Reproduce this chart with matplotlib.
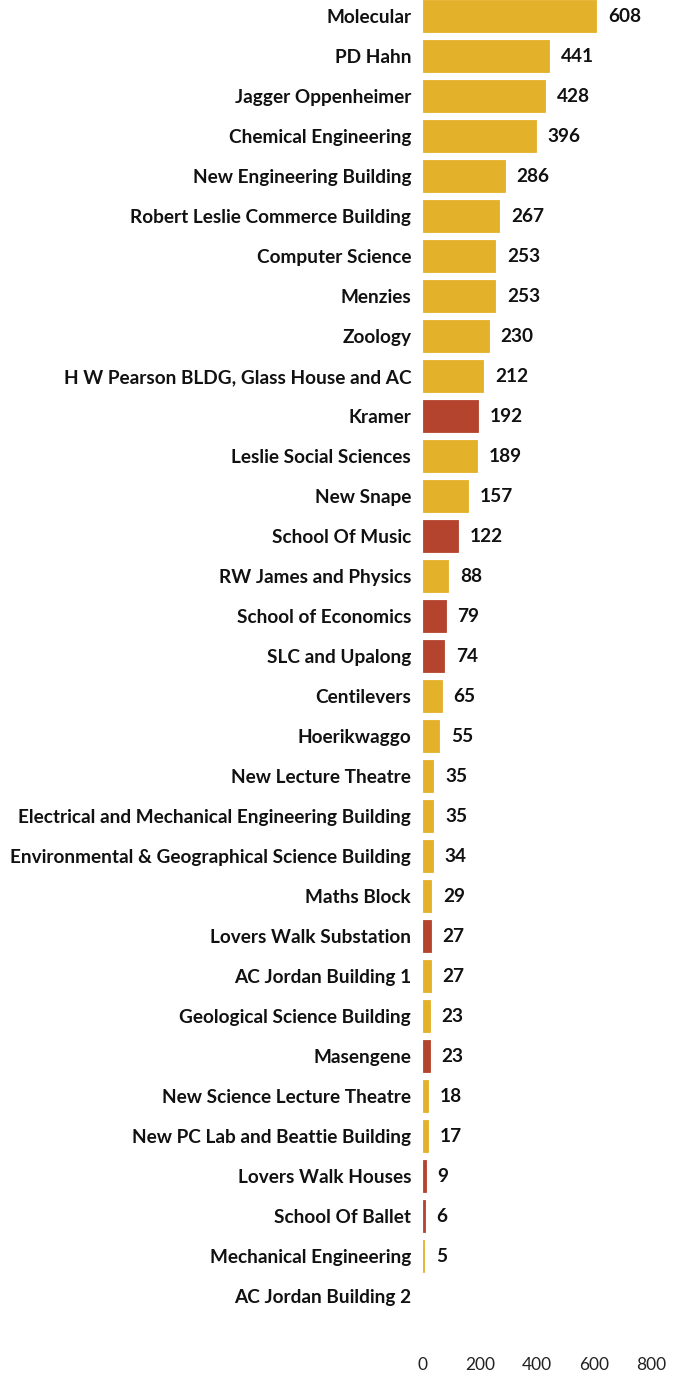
import matplotlib
matplotlib.use("Agg")
import matplotlib.pyplot as plt
import numpy as np

buildings = [
    "Molecular", "PD Hahn", "Jagger Oppenheimer", "Chemical Engineering",
    "New Engineering Building", "Robert Leslie Commerce Building",
    "Computer Science", "Menzies", "Zoology",
    "H W Pearson BLDG, Glass House and AC", "Kramer", "Leslie Social Sciences",
    "New Snape", "School Of Music", "RW James and Physics",
    "School of Economics", "SLC and Upalong", "Centilevers", "Hoerikwaggo",
    "New Lecture Theatre", "Electrical and Mechanical Engineering Building",
    "Environmental & Geographical Science Building", "Maths Block",
    "Lovers Walk Substation", "AC Jordan Building 1",
    "Geological Science Building", "Masengene", "New Science Lecture Theatre",
    "New PC Lab and Beattie Building", "Lovers Walk Houses", "School Of Ballet",
    "Mechanical Engineering", "AC Jordan Building 2",
]
counts = [608, 441, 428, 396, 286, 267, 253, 253, 230, 212, 192, 189, 157,
          122, 88, 79, 74, 65, 55, 35, 35, 34, 29, 27, 27, 23, 23, 18, 17,
          9, 6, 5, 0]
highlight = ["Kramer", "School Of Music", "School of Economics",
             "SLC and Upalong", "Lovers Walk Substation", "Masengene",
             "Lovers Walk Houses", "School Of Ballet"]
xticks = [0, 200, 400, 600, 800]

GOLD = "#E4B12A"
RED = "#B4442E"

W, H = 682, 1375
fig = plt.figure(figsize=(W / 100, H / 100), dpi=100)
ax = fig.add_axes([423 / W, (H - 1350) / H, 228 / W, 1350 / H])

y = np.arange(len(buildings))
colors = [RED if b in highlight else GOLD for b in buildings]
widths = [0.6 if v > 0 else 0 for v in counts]
bars = ax.barh(y, counts, height=0.8, color=colors, edgecolor=colors,
               linewidth=widths)

for rect, v in zip(bars, counts):
    if v == 0:
        continue
    ax.annotate(str(v), (rect.get_width(), rect.get_y() + rect.get_height() / 2),
                xytext=(12, 0), textcoords="offset pixels", va="center",
                ha="left", fontsize=13.7, fontweight="bold", family="Lato",
                color="#111111")

ax.set_xlim(0, 800)
ax.set_ylim(33.35, -0.4)
ax.set_yticks(y)
ax.set_yticklabels(buildings, fontsize=13.7, fontweight="bold", family="Lato",
                   color="#111111")
ax.set_xticks(xticks)
ax.set_xticklabels([str(t) for t in xticks], fontsize=12.5, family="Lato",
                   color="#222222")
ax.tick_params(axis="y", length=0, pad=8.5)
ax.tick_params(axis="x", length=0, pad=5)
for s in ax.spines.values():
    s.set_visible(False)

fig.savefig("out.png", dpi=100)
